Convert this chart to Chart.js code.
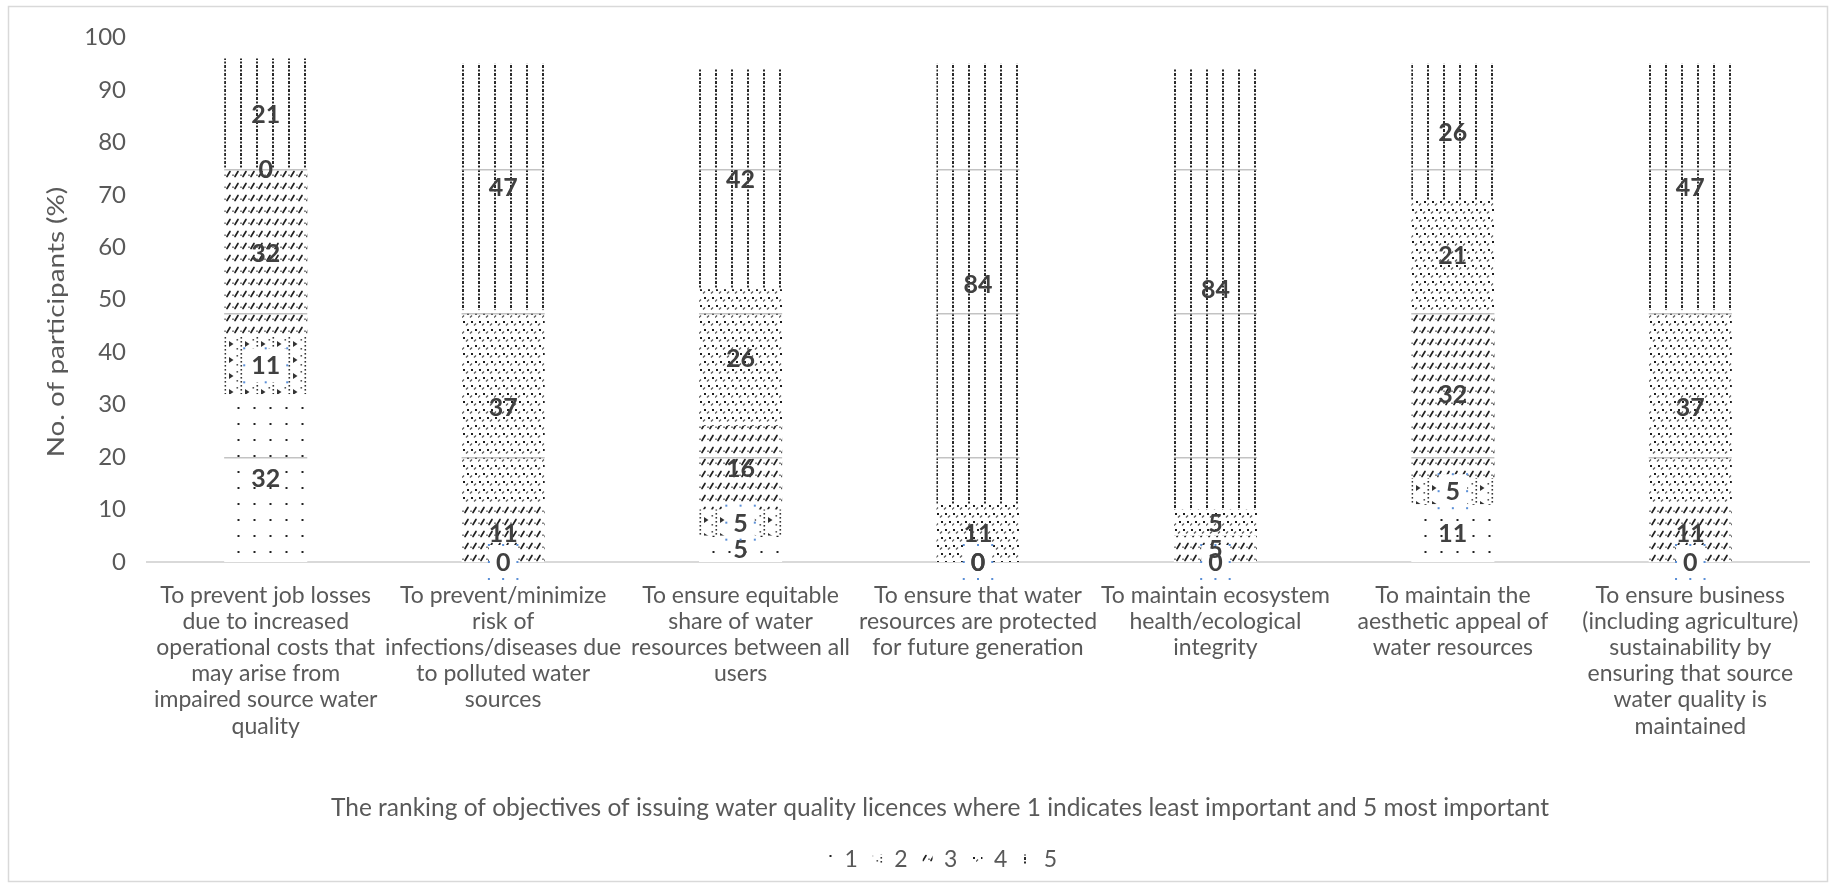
<!DOCTYPE html>
<html>
<head>
<meta charset="utf-8">
<title>Ranking of water quality licence objectives</title>
<script src="https://cdn.jsdelivr.net/npm/chart.js@4.4.1/dist/chart.umd.min.js"></script>
<style>
  html, body { margin: 0; padding: 0; background: #fff; }
  #wrap { width: 1836px; height: 889px; position: relative; }
</style>
</head>
<body>
<div id="wrap"><canvas id="chart"></canvas></div>
<script>
// Objectives (multi-line category labels)
const categories = [
  ['To prevent job losses', 'due to increased', 'operational costs that', 'may arise from', 'impaired source water', 'quality'],
  ['To prevent/minimize', 'risk of', 'infections/diseases due', 'to polluted water', 'sources'],
  ['To ensure equitable', 'share of water', 'resources between all', 'users'],
  ['To ensure that water', 'resources are protected', 'for future generation'],
  ['To maintain ecosystem', 'health/ecological', 'integrity'],
  ['To maintain the', 'aesthetic appeal of', 'water resources'],
  ['To ensure business', '(including agriculture)', 'sustainability by', 'ensuring that source', 'water quality is', 'maintained']
];

// Share of participants (%) giving each rank, 1 = least important, 5 = most important
const seriesNames = ['1', '2', '3', '4', '5'];
const rank1 = [32, 0, 5, 0, 0, 11, 0];
const rank2 = [11, 0, 5, 0, 0, 5, 0];
const rank3 = [32, 11, 16, 0, 5, 32, 11];
const rank4 = [0, 37, 26, 11, 5, 21, 37];
const rank5 = [21, 47, 42, 84, 84, 26, 47];

// Value axis
const yMin = 0;
const yMax = 100;
const yStep = 10;

const yTitle = 'No. of participants (%)';
const xTitle = 'The ranking of objectives of issuing water quality licences where 1 indicates least important and 5 most important';

const FONT = 'Lato, "Open Sans", sans-serif';
Chart.defaults.font.family = FONT;

const BAR_FRACTION = 0.35;

// ---- monochrome fill tiles, one per rank ----
const TILE_W = 16, TILE_H = 144;
function makeTile(period, motif) {
  const c = document.createElement('canvas');
  c.width = TILE_W; c.height = TILE_H;
  const g = c.getContext('2d');
  g.fillStyle = '#ffffff';
  g.fillRect(0, 0, TILE_W, TILE_H);
  for (let y = 0; y < TILE_H; y += period) motif(g, y);
  // faint seam that repeats with the tile
  g.fillStyle = 'rgba(185,185,185,0.85)';
  g.fillRect(0, 25, TILE_W, 1.5);
  return c;
}

const tileDots = makeTile(16, (g, y) => {
  g.fillStyle = '#222';
  g.fillRect(13.5, y + 7, 2, 2);
});

const tileArrows = makeTile(16, (g, y) => {
  g.fillStyle = '#333';
  [1, 5, 9, 13].forEach(d => g.fillRect(0.5, y + d, 1.6, 1.6));
  g.beginPath();
  g.moveTo(5, y + 5); g.lineTo(9.5, y + 8); g.lineTo(5, y + 11); g.closePath();
  g.fill();
  g.fillStyle = '#555';
  g.fillRect(12.5, y + 3, 1.6, 1.6);
  g.fillRect(12.5, y + 12, 1.6, 1.6);
});

const tileSlashes = makeTile(12, (g, y) => {
  g.strokeStyle = '#222';
  g.lineCap = 'round';
  [0, 8].forEach(x => {
    g.lineWidth = 1.7;
    g.beginPath(); g.moveTo(x + 3, y + 8.5); g.lineTo(x + 6, y + 3.5); g.stroke();
    g.fillStyle = '#444';
    g.fillRect(x + 0.3, y + 6.5, 1.4, 1.4);
  });
});

const tileConfetti = makeTile(16, (g, y) => {
  g.fillStyle = '#1e1e1e';
  [[1, 1], [9, 1], [5, 9], [13, 9]].forEach(([x, d]) => g.fillRect(x, y + d, 2, 2));
  g.strokeStyle = '#555';
  g.lineWidth = 1.2;
  [[4, 5.5], [12, 5.5], [0, 13.5], [8, 13.5]].forEach(([x, d]) => {
    g.beginPath(); g.moveTo(x, y + d); g.lineTo(x + 2, y + d - 2); g.stroke();
  });
});

const tileVertical = makeTile(16, (g, y) => {
  g.fillStyle = '#2a2a2a';
  g.fillRect(0, y + 1, 2, 3);
  g.fillRect(0, y + 5.5, 2, 2);
  g.fillRect(0, y + 9, 2, 3);
  g.fillRect(0, y + 13.5, 2, 2);
});

const seriesValues = [rank1, rank2, rank3, rank4, rank5];
const seriesTiles = [tileDots, tileArrows, tileSlashes, tileConfetti, tileVertical];

// pattern per bar segment, anchored to the left edge of its bar
const patternCache = new Map();
function segmentFill(di) {
  return (c) => {
    const chart = c.chart;
    const xs = chart.scales && chart.scales.x;
    if (c.type !== 'data' || !xs || !xs.width) {
      const key = 'base' + di;
      if (!patternCache.has(key)) patternCache.set(key, chart.ctx.createPattern(seriesTiles[di], 'repeat'));
      return patternCache.get(key);
    }
    const slot = xs.width / categories.length;
    const left = Math.round(xs.getPixelForValue(c.dataIndex) - slot * BAR_FRACTION / 2);
    const key = di + ':' + left;
    if (!patternCache.has(key)) {
      const p = chart.ctx.createPattern(seriesTiles[di], 'repeat');
      p.setTransform(new DOMMatrix().translateSelf(left, 0));
      patternCache.set(key, p);
    }
    return patternCache.get(key);
  };
}

// ---- chart frame ----
const framePlugin = {
  id: 'frame',
  beforeDraw(chart) {
    const { ctx, width, height } = chart;
    ctx.save();
    ctx.fillStyle = '#ffffff';
    ctx.fillRect(0, 0, width, height);
    ctx.strokeStyle = '#d9d9d9';
    ctx.lineWidth = 1.5;
    ctx.strokeRect(8.5, 6.5, width - 17, height - 14);
    ctx.restore();
  }
};

// ---- vertical axis title ----
const yTitlePlugin = {
  id: 'yTitle',
  afterDraw(chart) {
    const ctx = chart.ctx;
    ctx.save();
    ctx.translate(56, 322);
    ctx.rotate(-Math.PI / 2);
    ctx.scale(1.16, 1);
    ctx.font = '24px ' + FONT;
    ctx.fillStyle = '#595959';
    ctx.textAlign = 'center';
    ctx.textBaseline = 'middle';
    ctx.fillText(yTitle, 0, 0);
    ctx.restore();
  }
};

// ---- value labels in the middle of each segment ----
const segmentLabels = {
  id: 'segmentLabels',
  afterDatasetsDraw(chart) {
    const ctx = chart.ctx;
    ctx.save();
    ctx.font = 'bold 25px ' + FONT;
    ctx.textAlign = 'center';
    ctx.textBaseline = 'middle';
    chart.data.datasets.forEach((ds, i) => {
      const meta = chart.getDatasetMeta(i);
      meta.data.forEach((bar, j) => {
        const v = ds.data[j];
        const { x, y, base } = bar.getProps(['x', 'y', 'base'], true);
        const cy = (y + base) / 2;
        const txt = String(v);
        if (i === 1) {
          // rank-2 labels carry a white label box with selection handles
          const w = ctx.measureText(txt).width + 14, h = 34;
          ctx.fillStyle = '#ffffff';
          ctx.fillRect(x - w / 2, cy - h / 2, w, h);
          ctx.fillStyle = '#5b8fd6';
          [-0.5, 0, 0.5].forEach(fx => [-0.5, 0, 0.5].forEach(fy => {
            if (fx || fy) ctx.fillRect(x + fx * w - 1, cy + fy * h - 1, 2, 2);
          }));
        }
        ctx.fillStyle = '#404040';
        ctx.fillText(txt, x, cy + 1);
      });
    });
    ctx.restore();
  }
};

const PAD = { left: 44, right: 0, top: 37.5, bottom: 8 };
const PLOT_LEFT = 147, PLOT_BOTTOM = 562, RIGHT_GAP = 27;

new Chart(document.getElementById('chart'), {
  type: 'bar',
  data: {
    labels: categories,
    datasets: seriesNames.map((name, i) => ({
      label: name,
      data: seriesValues[i],
      backgroundColor: segmentFill(i),
      borderWidth: 0,
      barPercentage: BAR_FRACTION,
      categoryPercentage: 1.0
    }))
  },
  options: {
    responsive: true,
    maintainAspectRatio: false,
    devicePixelRatio: 1,
    animation: false,
    layout: { padding: PAD },
    plugins: {
      tooltip: { enabled: false },
      legend: {
        position: 'bottom',
        weight: 1000,
        labels: {
          color: '#595959',
          font: { size: 23 },
          boxWidth: 10,
          boxHeight: 10,
          padding: 15
        }
      },
      title: {
        display: true,
        position: 'bottom',
        weight: 500,
        text: xTitle,
        color: '#595959',
        font: { size: 24.5, weight: 'normal' },
        padding: { top: 10, bottom: 10 }
      }
    },
    scales: {
      x: {
        stacked: true,
        grid: { display: false, drawTicks: false },
        border: { display: true, color: '#d9d9d9', width: 2 },
        ticks: {
          autoSkip: false,
          maxRotation: 0,
          minRotation: 0,
          padding: 20,
          color: '#595959',
          font: { size: 23, lineHeight: 26.2 / 23 }
        },
        afterFit(s) {
          const ch = s.chart;
          s.height = ch.height - PLOT_BOTTOM - PAD.bottom - ch.legend.height - ch.titleBlock.height;
        }
      },
      y: {
        stacked: true,
        min: yMin,
        max: yMax,
        ticks: { stepSize: yStep, padding: 21, color: '#595959', font: { size: 24 } },
        grid: { display: false, drawTicks: false },
        border: { display: false },
        title: { display: false },
        afterFit(s) { s.width = PLOT_LEFT - PAD.left; }
      },
      yGap: {
        position: 'right',
        grid: { display: false, drawTicks: false },
        border: { display: false },
        ticks: { display: false },
        afterFit(s) { s.width = RIGHT_GAP; }
      }
    }
  },
  plugins: [framePlugin, segmentLabels, yTitlePlugin]
});
</script>
</body>
</html>
